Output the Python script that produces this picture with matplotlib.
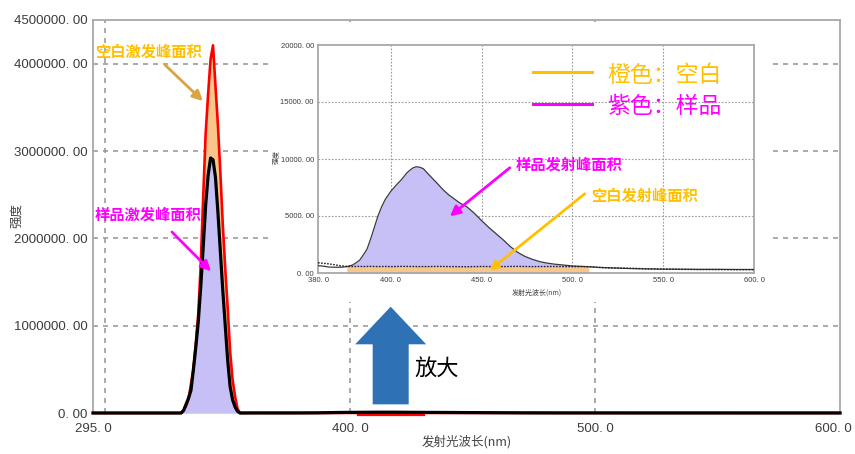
import matplotlib
matplotlib.use("Agg")
import matplotlib.pyplot as plt
import matplotlib.transforms as mtransforms
from matplotlib.patches import Rectangle, FancyArrow
import numpy as np

plt.rcParams['font.family'] = ['Noto Sans CJK SC', 'DejaVu Sans']

# ---------------- data ----------------
# excitation (Rayleigh) peak region, full-range spectrum
exc_nm = [295, 330, 331, 332, 333, 334, 335, 336, 337, 338, 339, 340, 341, 342,
          343, 344, 345, 346, 347, 348, 349, 350, 351, 352, 353, 354, 355, 356]
exc_blank = [0, 0, 0, 30000, 80000, 160000, 330000, 500000, 800000, 1140000,
             1710000, 2480000, 3200000, 3650000, 4050000, 4210000, 3750000,
             3300000, 2750000, 2150000, 1650000, 1200000, 700000, 380000,
             190000, 50000, 0, 0]
exc_sample = [0, 0, 0, 30000, 100000, 170000, 260000, 500000, 760000, 1050000,
              1450000, 1900000, 2380000, 2720000, 2920000, 2900000, 2700000,
              2300000, 1850000, 1400000, 1000000, 600000, 300000, 150000,
              70000, 20000, 0, 0]

# emission region (zoomed view)
em_nm = [360, 363, 366, 370, 373, 376, 379, 381, 383, 385, 387, 389, 391, 393,
         395, 397, 400, 403, 406, 409, 412, 414, 416, 418, 420, 423, 426, 429,
         432, 435, 438, 442, 446, 450, 454, 458, 462, 466, 470, 474, 478, 482,
         486, 490, 495, 500, 505, 509, 515, 520, 530, 540, 550, 560, 570, 580,
         590, 600]
em_sample = [640, 600, 520, 500, 510, 560, 700, 900, 1140, 1600, 2100, 3000,
             4000, 5000, 5800, 6450, 7150, 7700, 8200, 8800, 9200, 9320, 9280,
             9150, 8800, 8300, 7800, 7280, 6850, 6500, 6150, 5800, 5250, 4600,
             4000, 3450, 2900, 2300, 1800, 1450, 1200, 1000, 870, 780, 700, 620,
             580, 550, 490, 460, 400, 360, 340, 330, 320, 320, 310, 310]
em_blank = [900, 850, 800, 700, 620, 580, 570, 575, 580, 570, 575, 580, 570,
            565, 570, 575, 560, 570, 580, 575, 570, 565, 560, 565, 560, 570,
            575, 570, 565, 560, 555, 550, 560, 570, 565, 560, 565, 575, 580,
            570, 560, 565, 570, 570, 565, 560, 560, 560, 480, 450, 420, 380,
            340, 320, 300, 300, 290, 290]

fill_band = [376, 509]      # integration window of the emission peak
zoom_band = [403, 430]      # region enlarged in the inset

main_xticks = [295, 400, 500, 600]
main_xticklabels = ["295. 0", "400. 0", "500. 0", "600. 0"]
main_yticks = [0, 1000000, 2000000, 3000000, 4000000, 4500000]
main_yticklabels = ["0. 00", "1000000. 00", "2000000. 00", "3000000. 00",
                    "4000000. 00", "4500000. 00"]
main_grid_x = [300, 400, 500]
main_grid_y = [1000000, 2000000, 3000000, 4000000]

inset_xticks = [360, 400, 450, 500, 550, 600]
inset_xticklabels = ["380. 0", "400. 0", "450. 0", "500. 0", "550. 0", "600. 0"]
inset_yticks = [0, 5000, 10000, 15000, 20000]
inset_yticklabels = ["0. 00", "5000. 00", "10000. 00", "15000. 00", "20000. 00"]
inset_grid_x = [400, 450, 500, 550]
inset_grid_y = [5000, 10000, 15000]

# ---------------- styling ----------------
W, H = 855, 454
ORANGE_FILL = '#F8C68A'
PURPLE_FILL = '#C6C0F6'
GOLD = '#FFC000'
MAGENTA = '#FF00FF'
GRID = '#9C9C9C'
SPINE = '#A8A8A8'
TICK = '#3C3C3C'
NUM_FONT = ['Liberation Sans', 'DejaVu Sans']


def fpx(x, y):
    """pixel position (from top-left) -> figure fraction"""
    return x / W, 1 - y / H


fig = plt.figure(figsize=(W / 100, H / 100), dpi=100)

# full spectrum: excitation peak followed by the emission region
main_nm = np.array(exc_nm + em_nm, dtype=float)
main_blank = np.array(exc_blank + em_blank, dtype=float)
main_sample = np.array(exc_sample + em_sample, dtype=float)

ax = fig.add_axes([93 / W, 41 / H, 747 / W, 393 / H])
ax.set_xlim(295, 600)
ax.set_ylim(0, 4500000)

dash = (0, (3, 3))
for gx in main_grid_x:
    ax.axvline(gx, color=GRID, lw=1.2, ls=dash, zorder=0)
for gy in main_grid_y:
    ax.axhline(gy, color=GRID, lw=1.2, ls=dash, zorder=0)

ax.fill_between(main_nm, main_blank, color=ORANGE_FILL, lw=0, zorder=1)
ax.fill_between(main_nm, main_sample, color=PURPLE_FILL, lw=0, zorder=2)
ax.plot(main_nm, main_blank, color='#FF0000', lw=1.9, zorder=3, clip_on=False)
red_off = mtransforms.offset_copy(ax.transData, fig=fig, y=-2.2, units='dots')
ax.plot(zoom_band, [0, 0], color='#FF0000', lw=1.6, transform=red_off,
        zorder=3.5, clip_on=False)
ax.plot(main_nm, main_sample, color='black', lw=2.3, zorder=4, clip_on=False)

for side in ('left', 'top', 'right'):
    ax.spines[side].set_color(SPINE)
    ax.spines[side].set_linewidth(1.3)
ax.spines['bottom'].set_visible(False)

ax.set_xticks(main_xticks)
ax.set_xticklabels(main_xticklabels, family=NUM_FONT, fontsize=9.5, color=TICK)
ax.set_yticks(main_yticks)
ax.set_yticklabels(main_yticklabels, family=NUM_FONT, fontsize=9.5, color=TICK)
ax.tick_params(length=0, pad=4)
ax.tick_params(axis='x', pad=7)
last = ax.get_xticklabels()[-1]
last.set_transform(last.get_transform() +
                   mtransforms.ScaledTranslation(-7 / 100, 0, fig.dpi_scale_trans))

fig.text(*fpx(17, 215), '强度', rotation=90, ha='center', va='center',
         fontsize=9, color='#444444')
fig.text(*fpx(467, 442), '发射光波长(nm)', ha='center', va='center',
         fontsize=9, color='#444444')

# annotations on the excitation peak
ax.annotate('', xy=(340.7, 3550000), xycoords='data',
            xytext=fpx(163, 63), textcoords='figure fraction',
            arrowprops=dict(arrowstyle='-|>,head_length=0.6,head_width=0.3',
                            color='#D9A441', lw=2), zorder=6)
ax.annotate('', xy=(344.0, 1600000), xycoords='data',
            xytext=fpx(170, 230), textcoords='figure fraction',
            arrowprops=dict(arrowstyle='-|>,head_length=0.6,head_width=0.3',
                            color=MAGENTA, lw=2), zorder=6)
fig.text(*fpx(95, 52), '空白激发峰面积', ha='left', va='center', fontsize=11,
         fontweight='bold', color=GOLD, zorder=6)
fig.text(*fpx(95, 215), '样品激发峰面积', ha='left', va='center', fontsize=11,
         fontweight='bold', color=MAGENTA, zorder=6)

# big "zoom" arrow
ax.add_patch(FancyArrow(0.3985, 0.022, 0, 0.2485, width=0.0482,
                        head_width=0.095, head_length=0.0957,
                        length_includes_head=True, transform=ax.transAxes,
                        color='#2E72B5', lw=0, zorder=5))
fig.text(*fpx(414, 369), '放大', ha='left', va='center', fontsize=16,
         color='black')

# ---------------- inset (emission region) ----------------
fig.patches.append(Rectangle(fpx(270, 302), (773 - 270) / W, (302 - 22) / H,
                             transform=fig.transFigure, facecolor='white',
                             edgecolor='none', zorder=1))

ins = fig.add_axes([318 / W, 1 - 273 / H, 436 / W, 228 / H], zorder=2)
ins.set_xlim(360, 600)
ins.set_ylim(0, 20000)
ins.set_facecolor('white')

dot = (0, (1.5, 1.5))
for gx in inset_grid_x:
    ins.axvline(gx, color=GRID, lw=0.8, ls=dot, zorder=0)
for gy in inset_grid_y:
    ins.axhline(gy, color=GRID, lw=0.8, ls=dot, zorder=0)

e_nm = np.array(em_nm, dtype=float)
e_s = np.array(em_sample, dtype=float)
e_b = np.array(em_blank, dtype=float)
band = (e_nm >= fill_band[0]) & (e_nm <= fill_band[1])
ins.fill_between(e_nm, e_s, where=band, color=PURPLE_FILL, lw=0, zorder=1)
ins.fill_between(e_nm, e_b, where=band, color=ORANGE_FILL, lw=0, zorder=2)
ins.plot(e_nm, e_s, color='#3A3A3A', lw=0.9, zorder=3)
ins.plot(e_nm, e_b, color='#222222', lw=1.0, ls=(0, (1.2, 1.0)), zorder=3)

for s in ins.spines.values():
    s.set_color(SPINE)
    s.set_linewidth(1.3)
ins.set_xticks(inset_xticks)
ins.set_xticklabels(inset_xticklabels, family=NUM_FONT, fontsize=5.5, color=TICK)
ins.set_yticks(inset_yticks)
ins.set_yticklabels(inset_yticklabels, family=NUM_FONT, fontsize=5.5, color=TICK)
ins.tick_params(length=0, pad=3)

fig.text(*fpx(276, 157), '强度', rotation=90, ha='center', va='center',
         fontsize=5, color='#444444', zorder=3)
fig.text(*fpx(537, 293), '发射光波长(nm)', ha='center', va='center',
         fontsize=5, color='#444444', zorder=3)

# colour key
ins.plot([0.493, 0.628], [0.882, 0.882], transform=ins.transAxes,
         color=GOLD, lw=2.2, zorder=5)
ins.plot([0.493, 0.628], [0.741, 0.741], transform=ins.transAxes,
         color=MAGENTA, lw=2.2, zorder=5)
ins.text(0.663, 0.868, '橙色：空白', transform=ins.transAxes, ha='left',
         va='center', fontsize=16.5, color=GOLD, zorder=5)
ins.text(0.663, 0.732, '紫色：样品', transform=ins.transAxes, ha='left',
         va='center', fontsize=16.5, color=MAGENTA, zorder=5)

# emission peak annotations
ins.annotate('', xy=(431.4, 4820), xycoords='data',
             xytext=fpx(512, 166), textcoords='figure fraction',
             arrowprops=dict(arrowstyle='-|>,head_length=0.6,head_width=0.3',
                             color=MAGENTA, lw=2), zorder=6)
ins.annotate('', xy=(453.4, 90), xycoords='data',
             xytext=fpx(587, 192), textcoords='figure fraction',
             arrowprops=dict(arrowstyle='-|>,head_length=0.5,head_width=0.25',
                             color=GOLD, lw=2), zorder=6)
fig.text(*fpx(516, 165), '样品发射峰面积', ha='left', va='center', fontsize=11,
         fontweight='bold', color=MAGENTA, zorder=6)
fig.text(*fpx(591, 196), '空白发射峰面积', ha='left', va='center', fontsize=11,
         fontweight='bold', color=GOLD, zorder=6)

fig.savefig('out.png', dpi=100)
